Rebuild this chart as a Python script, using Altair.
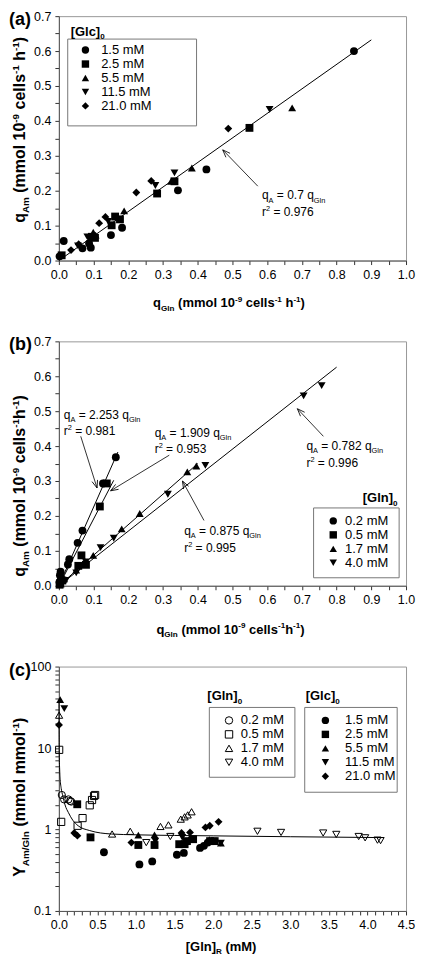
import math
import altair as alt
import pandas as pd

FONT = "Liberation Sans"

# ---------------- data ----------------
glc_labels = ["1.5 mM", "2.5 mM", "5.5 mM", "11.5 mM", "21.0 mM"]
gln_labels = ["0.2 mM", "0.5 mM", "1.7 mM", "4.0 mM"]
glc_shapes = ["circle", "square", "triangle-up", "triangle-down", "diamond"]
gln_shapes = ["circle", "square", "triangle-up", "triangle-down"]

# panel (a): q_Am vs q_Gln by [Glc]0
a_glc15_x = [0.850, 0.425, 0.343, 0.182, 0.150, 0.092, 0.068, 0.087, 0.014, 0.002]
a_glc15_y = [0.600, 0.261, 0.201, 0.094, 0.073, 0.037, 0.035, 0.049, 0.056, 0.012]
a_glc25_x = [0.549, 0.333, 0.283, 0.176, 0.162, 0.152, 0.104, 0.095, 0.008]
a_glc25_y = [0.380, 0.227, 0.192, 0.118, 0.126, 0.101, 0.065, 0.068, 0.015]
a_glc55_x = [0.672, 0.383, 0.323, 0.188, 0.106, 0.099]
a_glc55_y = [0.437, 0.265, 0.227, 0.142, 0.073, 0.081]
a_glc115_x = [0.607, 0.333, 0.278, 0.142, 0.082, 0.055]
a_glc115_y = [0.433, 0.251, 0.215, 0.112, 0.068, 0.042]
a_glc210_x = [0.488, 0.266, 0.223, 0.134, 0.116, 0.057, 0.035, 0.004]
a_glc210_y = [0.378, 0.228, 0.195, 0.125, 0.107, 0.047, 0.030, 0.013]
a_fit_x = [0.0, 0.90]
a_fit_y = [0.0, 0.632]

# panel (b): q_Am vs q_Gln by [Gln]0
b_gln02_x = [0.164, 0.127, 0.068, 0.054, 0.030, 0.026, 0.005, 0.003, 0.006, 0.002]
b_gln02_y = [0.368, 0.293, 0.158, 0.123, 0.076, 0.061, 0.040, 0.030, 0.020, 0.010]
b_gln05_x = [0.138, 0.118, 0.065, 0.078, 0.056, 0.010, 0.004, 0.002]
b_gln05_y = [0.293, 0.227, 0.087, 0.060, 0.057, 0.015, 0.008, 0.003]
b_gln17_x = [0.396, 0.370, 0.233, 0.181, 0.099, 0.075, 0.050, 0.015, 0.005]
b_gln17_y = [0.343, 0.326, 0.207, 0.163, 0.087, 0.070, 0.045, 0.020, 0.005]
b_gln40_x = [0.757, 0.705, 0.422, 0.314, 0.158, 0.120, 0.078, 0.050, 0.020, 0.008]
b_gln40_y = [0.573, 0.544, 0.345, 0.262, 0.136, 0.109, 0.068, 0.037, 0.015, 0.005]
b_fit_x_end = [0.170, 0.158, 0.400, 0.800]
b_fit_y_end = [0.383, 0.302, 0.350, 0.626]

# panel (c): Y_Am/Gln vs [Gln]R
c_gln02_x = [0.038, 0.068, 0.124, 0.145, 0.160]
c_gln02_y = [2.65, 2.34, 2.34, 2.24, 2.20]
c_gln05_x = [0.004, 0.030, 0.243, 0.307, 0.400, 0.430, 0.456, 0.470]
c_gln05_y = [9.5, 1.24, 1.11, 1.38, 1.98, 2.30, 2.58, 2.65]
c_gln17_x = [0.003, 0.690, 0.925, 1.317, 1.420, 1.580, 1.630, 1.670, 1.720]
c_gln17_y = [25.3, 0.88, 0.95, 1.09, 1.14, 1.34, 1.43, 1.51, 1.65]
c_gln40_x = [1.133, 1.445, 2.574, 2.880, 3.426, 3.596, 3.886, 3.970, 4.130, 4.170]
c_gln40_y = [0.69, 0.82, 0.95, 0.92, 0.905, 0.87, 0.82, 0.79, 0.74, 0.73]
c_glc15_x = [0.584, 1.044, 1.210, 1.530, 1.620, 1.830, 1.880, 1.930]
c_glc15_y = [0.526, 0.373, 0.406, 0.489, 0.516, 0.594, 0.630, 0.690]
c_glc25_x = [0.238, 0.410, 1.030, 1.240, 1.560, 1.630, 1.660, 1.740, 1.960, 2.020]
c_glc25_y = [2.04, 0.80, 0.645, 0.645, 0.66, 0.66, 0.72, 0.76, 0.72, 0.72]
c_glc55_x = [0.017, 1.030, 1.240, 1.700, 1.950, 2.100]
c_glc55_y = [39.3, 0.855, 0.86, 0.80, 0.75, 0.68]
c_glc115_x = [0.070, 1.250, 1.600, 2.000, 2.100]
c_glc115_y = [30.5, 0.72, 0.80, 0.72, 0.68]
c_glc210_x = [0.002, 0.200, 0.240, 0.940, 1.590, 1.700, 1.900, 1.956, 2.070]
c_glc210_y = [19.2, 0.905, 0.84, 0.69, 0.905, 0.92, 1.06, 1.11, 1.24]
c_fit_x = [0.001, 0.004, 0.010, 0.017, 0.030, 0.051, 0.080, 0.124, 0.180, 0.250,
           0.400, 0.680, 1.000, 1.500, 2.000, 3.000, 4.200]
c_fit_y = [38.0, 9.5, 5.5, 4.1, 3.2, 2.58, 2.0, 1.61, 1.30, 1.11,
           0.97, 0.88, 0.86, 0.845, 0.835, 0.815, 0.795]

# ---------------- layout constants ----------------
W, H = 348, 245
K = W / 353.0          # horizontal factor for positions measured at 353 px width
TX = -34               # baseline of rotated y titles
LX = -50               # left edge of panel letters

# ---------------- helpers ----------------
REG = {' ': 278, '(': 333, ')': 333, '-': 333, '.': 278, '/': 278, '=': 584, '[': 278, ']': 278,
       'A': 667, 'G': 778, 'M': 833, 'R': 722, 'Y': 667, 'a': 556, 'c': 500, 'e': 556, 'h': 556,
       'l': 222, 'm': 833, 'n': 556, 'o': 556, 'q': 556, 'r': 333, 's': 500}
BOLD = {' ': 278, '(': 333, ')': 333, '-': 333, '.': 278, '/': 278, '=': 584, '[': 333, ']': 333,
        'A': 722, 'G': 778, 'M': 833, 'R': 722, 'Y': 667, 'a': 556, 'c': 556, 'e': 556, 'h': 611,
        'l': 278, 'm': 889, 'n': 611, 'o': 611, 'q': 611, 'r': 389, 's': 556}

dummy = pd.DataFrame({"k": [0]})


def tw(s, size, bold):
    t = BOLD if bold else REG
    return sum(t.get(c, 556) for c in s) * size / 1000.0


def lay(pieces, size, bold, supk=0.42):
    out, pos = [], 0.0
    for txt, kind in pieces:
        fs = size if kind == "n" else round(size * 0.62, 1)
        sh = 0.0 if kind == "n" else (0.28 * size if kind == "sub" else -supk * size)
        lead = len(txt) - len(txt.lstrip(" "))
        pos += tw(" " * lead, fs, bold)
        core = txt.strip(" ")
        out.append((core, fs, pos, sh))
        pos += tw(core, fs, bold)
    return out, pos


def htext(pieces, x, y, size, bold=True, anchor="middle"):
    items, Wt = lay(pieces, size, bold)
    x0 = x - Wt / 2 if anchor == "middle" else x
    return [alt.Chart(dummy).mark_text(text=t, font=FONT, fontSize=fs,
                                       fontWeight="bold" if bold else "normal",
                                       align="left", baseline="alphabetic", color="black")
            .encode(x=alt.value(x0 + p), y=alt.value(y + sh)) for t, fs, p, sh in items]


def vtext(pieces, x, yc, size, bold=True):
    items, Wt = lay(pieces, size, bold, supk=0.38)
    y0 = yc + Wt / 2
    return [alt.Chart(dummy).mark_text(text=t, font=FONT, fontSize=fs, angle=270,
                                       fontWeight="bold" if bold else "normal",
                                       align="left", baseline="alphabetic", color="black")
            .encode(x=alt.value(x + sh), y=alt.value(y0 - p)) for t, fs, p, sh in items]


def box(x1, x2, y1, y2):
    return alt.Chart(dummy).mark_rect(fill="white", stroke="#777", strokeWidth=1).encode(
        x=alt.value(x1 * K), x2=alt.value(x2 * K), y=alt.value(y1), y2=alt.value(y2))


def frame(groups, xs, ys, col):
    rows = []
    for g, xx, yy in zip(groups, xs, ys):
        for a, b in zip(xx, yy):
            rows.append({"x": a, "y": b, col: g})
    return pd.DataFrame(rows)


def lin_axis(n):
    vals = [round(i * 0.05, 2) for i in range(n)]
    return alt.Axis(values=vals, title=None, grid=False, labelFlush=False, labelOverlap=False,
                    labelExpr="abs(datum.value*10 - round(datum.value*10)) < 0.001 ? format(datum.value, '.1f') : ''")


def legend(sym_cx, row1_cy, label_x, open_sym=False):
    # entry cell = max(ceil(sqrt(symbolSize)+stroke), labelFontSize) = 13 px
    cell = 13
    lx = sym_cx * K - cell / 2
    kw = dict(orient="none", legendX=lx, legendY=row1_cy - cell / 2 - 1, title=None,
              padding=0, symbolSize=55, labelFontSize=13, labelFont=FONT,
              labelColor="black", rowPadding=0, labelOffset=label_x * K - lx - cell,
              symbolStrokeColor="black")
    if open_sym:
        kw.update(symbolStrokeWidth=1)
    else:
        kw.update(symbolFillColor="black", symbolStrokeWidth=0)
    return alt.Legend(**kw)


def shape_enc(field, labels, shapes, lg):
    return alt.Shape(field, scale=alt.Scale(domain=labels, range=shapes), legend=lg)


class Enc:
    def __init__(self, xs, ys, xa, ya, sx, sy):
        self.xs, self.ys, self.xa, self.ya, self.sx, self.sy = xs, ys, xa, ya, sx, sy

    def X(self, f="x:Q"):
        return alt.X(f, scale=self.xs, axis=self.xa)

    def Y(self, f="y:Q"):
        return alt.Y(f, scale=self.ys, axis=self.ya)

    def XD(self, v):
        return alt.XDatum(v, scale=self.xs, axis=self.xa)

    def YD(self, v):
        return alt.YDatum(v, scale=self.ys, axis=self.ya)

    def dtext(self, pieces, xv, yv, size=12):
        items, Wt = lay(pieces, size, False)
        return [alt.Chart(dummy).mark_text(text=t, font=FONT, fontSize=fs, align="left",
                                           baseline="alphabetic", color="black", dx=p, dy=4 + sh)
                .encode(x=self.XD(xv), y=self.YD(yv)) for t, fs, p, sh in items]

    def arrow(self, tx, ty, hx, hy):
        rule = alt.Chart(dummy).mark_rule(color="black", strokeWidth=0.8).encode(
            x=self.XD(tx), y=self.YD(ty), x2=alt.datum(hx), y2=alt.datum(hy))
        dx = (hx - tx) * self.sx
        dy = -(hy - ty) * self.sy
        ang = math.degrees(math.atan2(dx, -dy)) % 360
        head = alt.Chart(dummy).mark_point(shape="M-0.38,1L0,0L0.38,1", size=230, filled=False,
                                           color="black", strokeWidth=0.8, opacity=1,
                                           angle=ang).encode(x=self.XD(hx), y=self.YD(hy))
        return [rule, head]


x_title_ab = [("q", "n"), ("Gln", "sub"), (" (mmol 10", "n"), ("-9", "sup"), (" cells", "n"),
              ("-1", "sup"), (" h", "n"), ("-1", "sup"), (")", "n")]
e_ab = Enc(alt.Scale(domain=[0, 1], nice=False), alt.Scale(domain=[0, 0.7], nice=False),
           lin_axis(21), lin_axis(15), W, H / 0.7)

# ---------------- panel (a) ----------------
df_a = frame(glc_labels, [a_glc15_x, a_glc25_x, a_glc55_x, a_glc115_x, a_glc210_x],
             [a_glc15_y, a_glc25_y, a_glc55_y, a_glc115_y, a_glc210_y], "glc")
pts_a = alt.Chart(df_a).mark_point(filled=True, color="black", opacity=1, size=62).encode(
    x=e_ab.X(), y=e_ab.Y(),
    shape=shape_enc("glc:N", glc_labels, glc_shapes, legend(27, 35, 43)))
fit_a = alt.Chart(pd.DataFrame({"x": a_fit_x, "y": a_fit_y})).mark_line(
    color="black", strokeWidth=1).encode(x=e_ab.X(), y=e_ab.Y())
layers_a = [box(9, 140, 23, 110), fit_a, pts_a]
layers_a += e_ab.arrow(0.573, 0.213, 0.472, 0.317)
layers_a += e_ab.dtext([("q", "n"), ("A", "sub"), (" = 0.7 q", "n"), ("Gln", "sub")], 0.585, 0.187)
layers_a += e_ab.dtext([("r", "n"), ("2", "sup"), (" = 0.976", "n")], 0.585, 0.139)
layers_a += htext([("[Glc]", "n"), ("0", "sub")], 12 * K, 19.5, 13, anchor="start")
layers_a += htext([("(a)", "n")], LX, 9, 18, anchor="start")
layers_a += htext(x_title_ab, 173 * K, 292, 13)
layers_a += vtext([("q", "n"), ("Am", "sub"), (" (mmol 10", "n"), ("-9", "sup"), (" cells", "n"),
                   ("-1", "sup"), (" h", "n"), ("-1", "sup"), (")", "n")], TX, 114, 16)
panel_a = alt.layer(*layers_a).properties(width=W, height=H)

# ---------------- panel (b) ----------------
df_b = frame(gln_labels, [b_gln02_x, b_gln05_x, b_gln17_x, b_gln40_x],
             [b_gln02_y, b_gln05_y, b_gln17_y, b_gln40_y], "gln")
pts_b = alt.Chart(df_b).mark_point(filled=True, color="black", opacity=1, size=62).encode(
    x=e_ab.X(), y=e_ab.Y(),
    shape=shape_enc("gln:N", gln_labels, gln_shapes, legend(279, 181, 291)))
fit_rows = []
for i, (xe, ye) in enumerate(zip(b_fit_x_end, b_fit_y_end)):
    fit_rows += [{"line": i, "x": 0.0, "y": 0.0}, {"line": i, "x": xe, "y": ye}]
fit_b = alt.Chart(pd.DataFrame(fit_rows)).mark_line(color="black", strokeWidth=1).encode(
    x=e_ab.X(), y=e_ab.Y(), detail="line:N")
layers_b = [box(259, 346, 167, 237), fit_b, pts_b]
layers_b += e_ab.arrow(0.063, 0.428, 0.110, 0.280)
layers_b += e_ab.arrow(0.318, 0.374, 0.149, 0.272)
layers_b += e_ab.arrow(0.762, 0.428, 0.687, 0.507)
layers_b += e_ab.arrow(0.418, 0.187, 0.356, 0.300)
for (xv, yv, k, r2v, yr) in [(0.014, 0.490, "2.253", "0.981", 0.442),
                            (0.276, 0.4375, "1.909", "0.953", 0.391),
                            (0.713, 0.400, "0.782", "0.996", 0.352),
                            (0.361, 0.158, "0.875", "0.995", 0.107)]:
    layers_b += e_ab.dtext([("q", "n"), ("A", "sub"), (" = " + k + " q", "n"), ("Gln", "sub")], xv, yv)
    layers_b += e_ab.dtext([("r", "n"), ("2", "sup"), (" = " + r2v, "n")], xv, yr)
layers_b += htext([("[Gln]", "n"), ("0", "sub")], 309 * K, 161.5, 13, anchor="start")
layers_b += htext([("(b)", "n")], LX, 9, 18, anchor="start")
layers_b += htext([("q", "n"), ("Gln", "sub"), (" (mmol 10", "n"), ("-9", "sup"), (" cells", "n"),
                   ("-1", "sup"), ("h", "n"), ("-1", "sup"), (")", "n")], 174.5 * K, 293, 13)
layers_b += vtext([("q", "n"), ("Am", "sub"), (" (mmol 10", "n"), ("-9", "sup"), (" cells", "n"),
                   ("-1", "sup"), ("h", "n"), ("-1", "sup"), (")", "n")], TX, 145, 16)
panel_b = alt.layer(*layers_b).properties(width=W, height=H)

# ---------------- panel (c) ----------------
xc_axis = alt.Axis(values=[round(i * 0.1, 1) for i in range(46)], title=None, grid=False,
                   labelFlush=False, labelOverlap=False,
                   labelExpr="abs(datum.value*2 - round(datum.value*2)) < 0.001 ? format(datum.value, '.1f') : ''")
log_vals = [round(k * 10 ** e, 6) for e in (-1, 0, 1) for k in range(1, 10)] + [100]
yc_axis = alt.Axis(values=log_vals, title=None, grid=False, labelFlush=False, labelOverlap=False,
                   labelExpr="abs(log(datum.value)/LN10 - round(log(datum.value)/LN10)) < 0.001 ? format(datum.value, '~g') : ''")
e_c = Enc(alt.Scale(domain=[0, 4.5], nice=False),
          alt.Scale(type="log", domain=[0.1, 100], nice=False), xc_axis, yc_axis, W / 4.5, H / 3)

df_c_open = frame(gln_labels, [c_gln02_x, c_gln05_x, c_gln17_x, c_gln40_x],
                  [c_gln02_y, c_gln05_y, c_gln17_y, c_gln40_y], "gln")
df_c_fill = frame(glc_labels, [c_glc15_x, c_glc25_x, c_glc55_x, c_glc115_x, c_glc210_x],
                  [c_glc15_y, c_glc25_y, c_glc55_y, c_glc115_y, c_glc210_y], "glc")
fit_c = alt.Chart(pd.DataFrame({"x": c_fit_x, "y": c_fit_y})).mark_line(
    color="black", strokeWidth=1, interpolate="monotone").encode(x=e_c.X(), y=e_c.Y())
pts_c_fill = alt.Chart(df_c_fill).mark_point(filled=True, color="black", opacity=1, size=62).encode(
    x=e_c.X(), y=e_c.Y(),
    shape=shape_enc("glc:N", glc_labels, glc_shapes, legend(271, 55, 291)))
pts_c_open = alt.Chart(df_c_open).mark_point(filled=False, color="black", strokeWidth=1,
                                             opacity=1, size=52).encode(
    x=e_c.X(), y=e_c.Y(),
    shape=shape_enc("gln:N", gln_labels, gln_shapes, legend(173, 55, 185, open_sym=True)))
layers_c = [box(153, 240, 41, 111), box(250, 344, 41, 126), fit_c, pts_c_fill, pts_c_open]
layers_c += htext([("[Gln]", "n"), ("0", "sub")], 151 * K, 33.5, 13, anchor="start")
layers_c += htext([("[Glc]", "n"), ("0", "sub")], 251 * K, 33.5, 13, anchor="start")
layers_c += htext([("(c)", "n")], LX, 9, 18, anchor="start")
layers_c += htext([("[Gln]", "n"), ("R", "sub"), (" (mM)", "n")], 165 * K, 285, 13)
layers_c += vtext([("Y", "n"), ("Am/Gln", "sub"), (" (mmol mmol", "n"), ("-1", "sup"), (")", "n")],
                  TX, 131, 16)
panel_c = alt.layer(*layers_c).resolve_scale(shape="independent").properties(width=W, height=H)

chart = alt.vconcat(panel_a, panel_b, panel_c, spacing=81, bounds="flush").resolve_scale(
    shape="independent"
).properties(
    padding=0
).configure(padding=0).configure_view(stroke="#999", strokeWidth=1).configure_axis(
    labelFont=FONT, labelFontSize=12.5, labelColor="black", tickSize=4, labelPadding=4,
    domainColor="#555", tickColor="#333", tickWidth=1, domainWidth=1
)

chart.save("out.html", embed_options={"renderer": "svg", "actions": False})
